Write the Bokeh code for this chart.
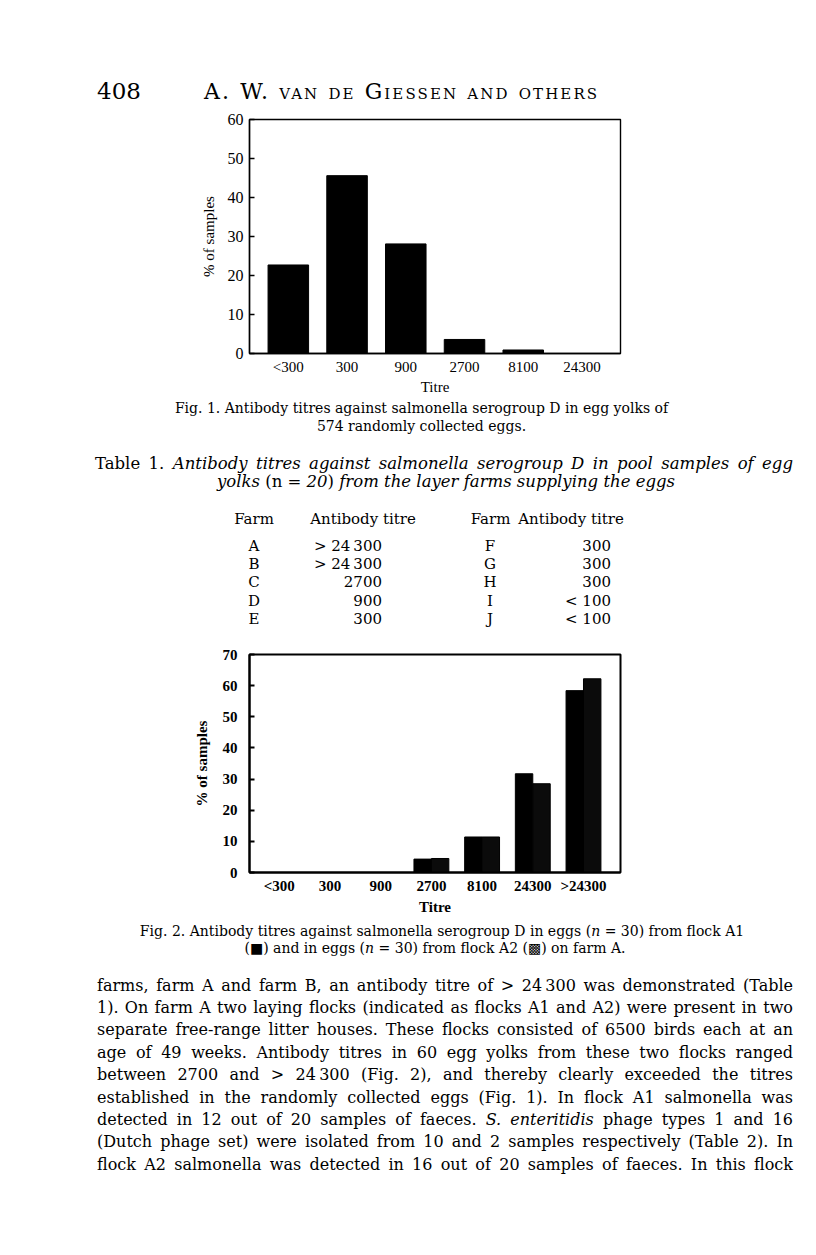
from bokeh.plotting import figure
from bokeh.models import Div, FixedTicker, Range1d, ColumnDataSource
from bokeh.layouts import column
from bokeh.transform import dodge
from bokeh.embed import file_html
from bokeh.resources import INLINE

# ---------------- data ----------------
fig1_titres = ["<300", "300", "900", "2700", "8100", "24300"]
fig1_pct = [22.7, 45.6, 28.1, 3.6, 0.9, 0.0]

fig2_titres = ["<300", "300", "900", "2700", "8100", "24300", ">24300"]
fig2_flock_a1 = [0.0, 0.0, 0.0, 4.3, 11.4, 31.7, 58.4]
fig2_flock_a2 = [0.0, 0.0, 0.0, 4.5, 11.4, 28.5, 62.2]

fig1_yticks = [0, 10, 20, 30, 40, 50, 60]
fig2_yticks = [0, 10, 20, 30, 40, 50, 60, 70]

table_farms_left = ["A", "B", "C", "D", "E"]
table_titres_left = ["&gt; 24\u2009300", "&gt; 24\u2009300", "2700", "900", "300"]
table_farms_right = ["F", "G", "H", "I", "J"]
table_titres_right = ["300", "300", "300", "&lt; 100", "&lt; 100"]

body_lines = [
    "farms, farm A and farm B, an antibody titre of &gt; 24\u2009300 was demonstrated (Table",
    "1). On farm A two laying flocks (indicated as flocks A1 and A2) were present in two",
    "separate free-range litter houses. These flocks consisted of 6500 birds each at an",
    "age of 49 weeks. Antibody titres in 60 egg yolks from these two flocks ranged",
    "between 2700 and &gt; 24\u2009300 (Fig. 2), and thereby clearly exceeded the titres",
    "established in the randomly collected eggs (Fig. 1). In flock A1 salmonella was",
    "detected in 12 out of 20 samples of faeces. <i>S. enteritidis</i> phage types 1 and 16",
    "(Dutch phage set) were isolated from 10 and 2 samples respectively (Table 2). In",
    "flock A2 salmonella was detected in 16 out of 20 samples of faeces. In this flock",
]

PAGE_FONT = "'DejaVu Serif', serif"
CHART_FONT = "Liberation Serif"


def txt(text, top, size, left=None, center=None, right=None, width=None,
        justify=False, style=""):
    base = (f"position:absolute;top:{top}px;font-family:{PAGE_FONT};"
            f"font-size:{size}px;line-height:{size}px;color:#000;white-space:nowrap;{style}")
    if justify:
        return (f"<div style=\"{base}left:{left}px;width:{width}px;white-space:normal;"
                f"text-align:justify;text-align-last:justify;\">{text}</div>")
    if center is not None:
        return (f"<div style=\"{base}left:{center - 400}px;width:800px;"
                f"text-align:center;\">{text}</div>")
    if right is not None:
        return (f"<div style=\"{base}left:{right - 300}px;width:300px;"
                f"text-align:right;\">{text}</div>")
    return f"<div style=\"{base}left:{left}px;\">{text}</div>"


def page_div(parts, height):
    html = (f"<div style=\"position:relative;width:800px;height:{height}px;"
            f"overflow:visible;background:white;\">" + "".join(parts) + "</div>")
    return Div(text=html, width=800, height=height, margin=0)


# ---------------- header ----------------
header = page_div([
    txt("408", 72, 23, left=89),
    txt("A. W. van de Giessen and others", 73, 22, left=196,
        style="font-variant:small-caps;letter-spacing:2.1px;"),
], 102)


def style_chart(p, bold):
    weight = "bold" if bold else "normal"
    lw = 2 if bold else 1.4
    p.xgrid.visible = False
    p.ygrid.visible = False
    p.outline_line_color = "black"
    p.outline_line_width = lw
    p.background_fill_color = "white"
    p.border_fill_color = "white"
    for ax in (p.xaxis[0], p.yaxis[0]):
        ax.axis_line_color = "black"
        ax.axis_line_width = lw
        ax.minor_tick_line_color = None
        ax.minor_tick_in = 0
        ax.minor_tick_out = 0
        ax.major_label_text_font = CHART_FONT
        ax.major_label_text_font_size = "15px"
        ax.major_label_text_font_style = weight
        ax.major_label_text_color = "black"
        ax.axis_label_text_font = CHART_FONT
        ax.axis_label_text_font_size = "15px"
        ax.axis_label_text_font_style = weight
        ax.axis_label_text_color = "black"
    p.xaxis.major_tick_line_color = None
    p.xaxis.major_tick_in = 0
    p.xaxis.major_tick_out = 0
    p.yaxis.major_tick_in = 5
    p.yaxis.major_tick_out = 0
    p.yaxis.major_tick_line_color = "black"
    p.yaxis.major_tick_line_width = lw


# ---------------- figure 1 ----------------
x1 = list(range(len(fig1_titres)))
p1 = figure(width=800, height=287, x_range=Range1d(-0.661, 5.656), y_range=Range1d(0, 60),
            output_backend="svg", toolbar_location=None,
            min_border_left=241, min_border_right=186, min_border_top=9, min_border_bottom=44)
p1.vbar(x=x1, top=fig1_pct, width=0.69, fill_color="black", line_color="black")
style_chart(p1, bold=False)
p1.yaxis.major_label_text_font_size = "16px"
p1.xaxis.ticker = FixedTicker(ticks=x1)
p1.xaxis.major_label_overrides = {i: t for i, t in zip(x1, fig1_titres)}
p1.yaxis.ticker = FixedTicker(ticks=fig1_yticks)
p1.xaxis.axis_label = "Titre"
p1.yaxis.axis_label = "% of samples"
p1.xaxis.major_label_standoff = 5
p1.xaxis.axis_label_standoff = 1
p1.yaxis.major_label_standoff = 6
p1.yaxis.axis_label_standoff = 8

# ---------------- caption 1 + table 1 ----------------
parts = [
    txt("Fig. 1. Antibody titres against salmonella serogroup D in egg yolks of", 4.4, 14, center=413.5),
    txt("574 randomly collected eggs.", 22.4, 14, center=413.5),
    txt("Table 1. <i>Antibody titres against salmonella serogroup D in pool samples of egg</i>",
        59.4, 16.5, left=87, width=698, justify=True),
    txt("<i>yolks</i> (n = <i>20</i>) <i>from the layer farms supplying the eggs</i>", 77.4, 16.5, center=438),
    txt("Farm", 115, 15, center=246),
    txt("Antibody titre", 115, 15, center=355),
    txt("Farm", 115, 15, center=482.5),
    txt("Antibody titre", 115, 15, center=563),
]
row_top0 = 142
row_step = 18.2
for i in range(len(table_farms_left)):
    top = round(row_top0 + i * row_step, 1)
    parts.append(txt(table_farms_left[i], top, 15, center=246))
    parts.append(txt(table_titres_left[i], top, 15, right=374))
    parts.append(txt(table_farms_right[i], top, 15, center=482))
    parts.append(txt(table_titres_right[i], top, 15, right=603))
mid_div = page_div(parts, 248)

# ---------------- figure 2 ----------------
x2 = list(range(len(fig2_titres)))
src2 = ColumnDataSource(dict(x=x2, a1=fig2_flock_a1, a2=fig2_flock_a2))
p2 = figure(width=800, height=275, x_range=Range1d(-0.588, 6.73), y_range=Range1d(0, 70),
            output_backend="svg", toolbar_location=None,
            min_border_left=239, min_border_right=188, min_border_top=9, min_border_bottom=48)
p2.vbar(x=dodge("x", -0.172, range=p2.x_range), top="a1", width=0.344, source=src2,
        fill_color="black", line_color="black")
p2.vbar(x=dodge("x", 0.172, range=p2.x_range), top="a2", width=0.344, source=src2,
        fill_color="#0b0b0b", line_color="black")
style_chart(p2, bold=True)
p2.xaxis.ticker = FixedTicker(ticks=x2)
p2.xaxis.major_label_overrides = {i: t for i, t in zip(x2, fig2_titres)}
p2.yaxis.ticker = FixedTicker(ticks=fig2_yticks)
p2.xaxis.axis_label = "Titre"
p2.yaxis.axis_label = "% of samples"
p2.xaxis.major_label_standoff = 5
p2.xaxis.axis_label_standoff = 2
p2.yaxis.major_label_standoff = 12
p2.yaxis.axis_label_standoff = 10

# ---------------- caption 2 + body ----------------
parts = [
    txt("Fig. 2. Antibody titres against salmonella serogroup D in eggs (<i>n</i> = 30) from flock A1",
        4.4, 14, center=434),
    txt("(\u25A0) and in eggs (<i>n</i> = 30) from flock A2 (\u25A9) on farm A.", 21.4, 14, center=427),
]
body_top0 = 57.6
body_step = 22.4
for i, line in enumerate(body_lines):
    parts.append(txt(line, round(body_top0 + i * body_step, 1), 16, left=89, width=696, justify=True))
bottom_div = page_div(parts, 327)

layout = column(header, p1, mid_div, p2, bottom_div, spacing=0, margin=(8, 8, 8, 8))

open("out.html", "w").write(file_html(layout, INLINE))
